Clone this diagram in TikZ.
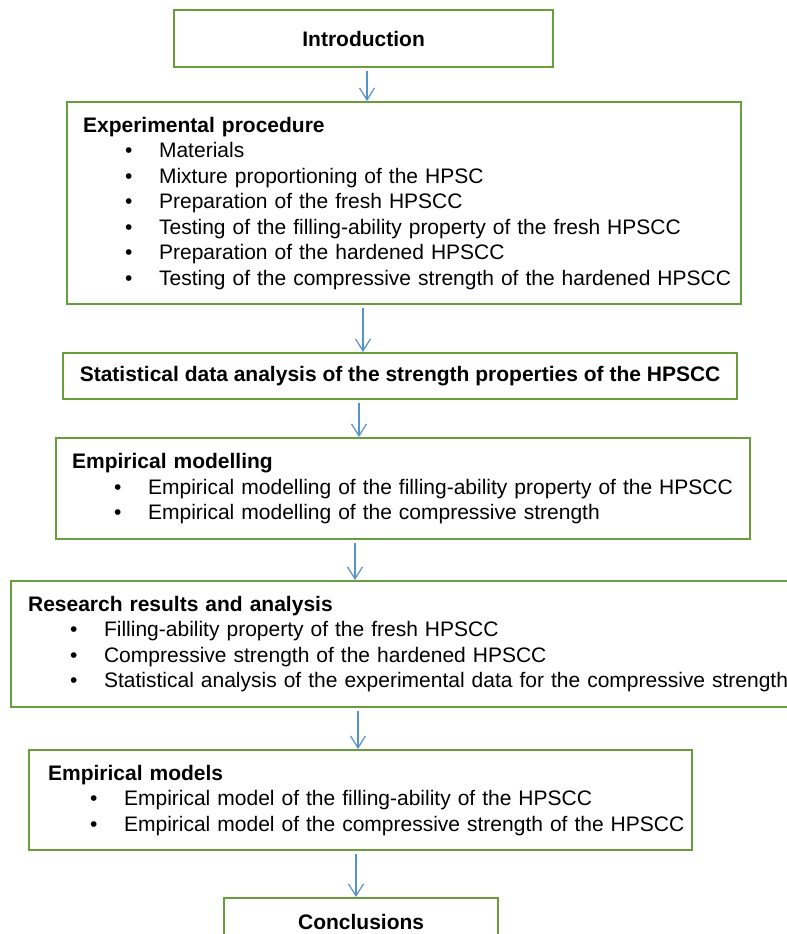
\documentclass[tikz,border=0pt]{standalone}
\usepackage{fontspec}
\setmainfont{Liberation Sans}
\usepackage{xcolor}
\usepackage{tikz}
\usetikzlibrary{arrows.meta, positioning, calc}
\definecolor{stagegreen}{RGB}{104,158,58}
\definecolor{flowblue}{RGB}{86,146,205}
% one bullet line inside a stage box (never broken)
\newcommand{\itm}[1]{\\\hspace*{21pt}\makebox[17pt][l]{\textbullet}\rlap{#1}}
\tikzset{
  stg/.style ={rectangle, draw=stagegreen, line width=1.1pt, fill=white, anchor=north west, inner ysep=0pt, font=\fontsize{10.5}{12.75}\selectfont},
  lst/.style ={stg, align=left, inner xsep=8pt},
  ttl/.style ={stg, align=center, font=\fontsize{10.5}{12.75}\selectfont\bfseries},
  fl/.style  ={draw=flowblue, line width=0.6pt, -{Straight Barb[length=6pt, width=7.5pt, line width=0.6pt]}},
}

\begin{document}
\begin{tikzpicture}[x=1pt, y=-1pt]
\useasboundingbox (0,0) rectangle (393.5,467);

% single-line stages
\node[ttl, minimum width=189.5pt, minimum height=28.5pt] (intro) at (86.5,4.5) {Introduction};

% stage with sub-steps
\node[lst, minimum width=337pt, text width=321pt, minimum height=101pt] (exp) at (33,50.5) {%
  \textbf{Experimental procedure}
  \itm{Materials}
  \itm{Mixture proportioning of the HPSC}
  \itm{Preparation of the fresh HPSCC}
  \itm{Testing of the filling-ability property of the fresh HPSCC}
  \itm{Preparation of the hardened HPSCC}
  \itm{Testing of the compressive strength of the hardened HPSCC}};

\node[ttl, minimum width=337pt, minimum height=23pt] (stat) at (31,176) {Statistical data analysis of the strength properties of the HPSCC};

\node[lst, minimum width=347pt, text width=331pt, minimum height=50.5pt] (empmod) at (27.5,218.5) {%
  \textbf{Empirical modelling}
  \itm{Empirical modelling of the filling-ability property of the HPSCC}
  \itm{Empirical modelling of the compressive strength}};

\node[lst, inner xsep=8.5pt, minimum width=396pt, text width=379pt, minimum height=63pt] (res) at (5,290) {%
  \textbf{Research results and analysis}
  \itm{Filling-ability property of the fresh HPSCC}
  \itm{Compressive strength of the hardened HPSCC}
  \itm{Statistical analysis of the experimental data for the compressive strength}};

\node[lst, inner xsep=9.5pt, minimum width=331.5pt, text width=312.5pt, minimum height=50pt] (models) at (14,374.5) {%
  \textbf{Empirical models}
  \itm{Empirical model of the filling-ability of the HPSCC}
  \itm{Empirical model of the compressive strength of the HPSCC}};

\node[ttl, minimum width=137pt, minimum height=24pt] (concl) at (111.5,448.5) {Conclusions};

% flow between stages
\foreach \a/\b/\x in {intro/exp/183.5, exp/stat/181.5, stat/empmod/179.5, empmod/res/177.5, res/models/179, models/concl/178}
  \draw[fl] (\x,0 |- \a.south) ++(0,1.5) -- (\x,0 |- \b.north);

\end{tikzpicture}
\end{document}
